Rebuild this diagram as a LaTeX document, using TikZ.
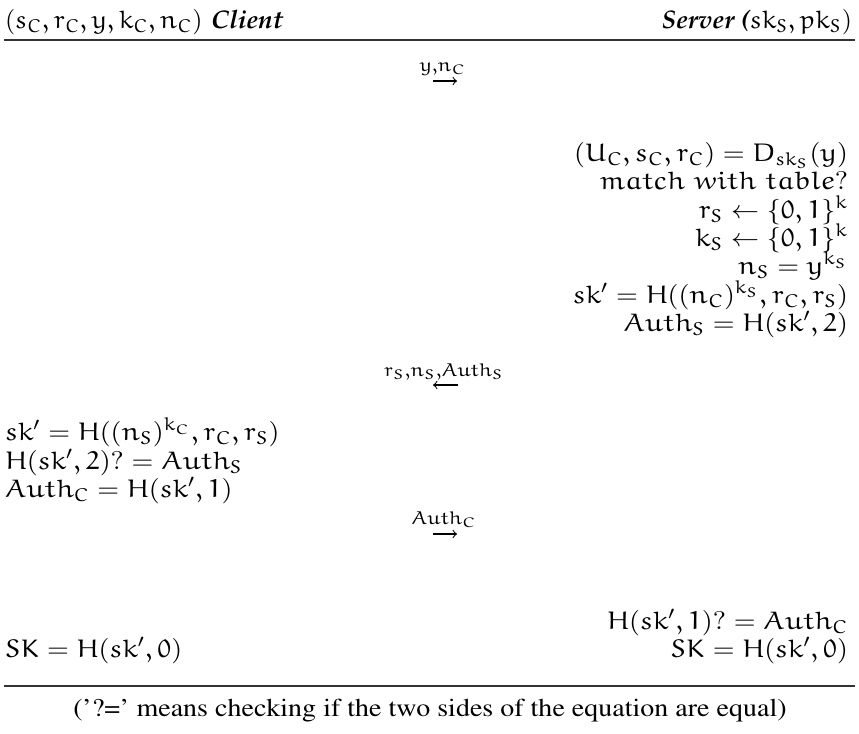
\documentclass[tikz,11pt,border=0pt]{standalone}
\usepackage[T1]{fontenc}
% Euler Roman for math letters and digits
\DeclareSymbolFont{letters}{U}{eur}{m}{n}
\SetSymbolFont{letters}{bold}{U}{eur}{b}{n}
\DeclareMathSymbol{0}{\mathalpha}{letters}{"30}
\DeclareMathSymbol{1}{\mathalpha}{letters}{"31}
\DeclareMathSymbol{2}{\mathalpha}{letters}{"32}
\newcommand\partyfont{\fontfamily{ppl}\fontseries{b}\fontshape{it}\selectfont}
\newcommand\notefont{\fontfamily{ptm}\fontseries{m}\fontshape{n}\selectfont}
% slightly widened setting of the protocol lines
\newcommand\wline[1]{\scalebox{1.1}[1]{#1}}
\newcommand\headline[1]{\scalebox{1.03}[1]{#1}}
\tikzset{
  lbl/.style={inner sep=0pt,outer sep=0pt},
  rule/.style={line width=0.5pt,draw=black!80},
  msg/.style={line width=0.45pt,-to},
  msgl/.style={lbl,anchor=base}
}
\begin{document}
\begin{tikzpicture}[x=0.43pt,y=-0.43pt]
\useasboundingbox (0,0) rectangle (859,733);

% party headers
\node[lbl,anchor=base west] (hc) at (5,28) {\headline{$(s_C,r_C,y,k_C,n_C)$ {\partyfont Client}}};
\node[lbl,anchor=base east] (hs) at (852,28) {\headline{{\partyfont Server (}$sk_S,pk_S)$}};
\coordinate (t1) at (4,40); \coordinate (t2) at (855,40);
\draw[rule] (t1) -- (t2);

% message 1
\coordinate (m1a) at (433,81); \coordinate (m1b) at (457,81);
\draw[msg] (m1a) -- (m1b);
\node[msgl] (m1) at (443,71) {\wline{$\scriptstyle y,n_C$}};

% server computation
\node[lbl,anchor=base east] (s1) at (848,161) {\wline{$(U_C,s_C,r_C)=D_{sk_S}(y)$}};
\node[lbl,anchor=base east] (s2) at (848,189) {\wline{$match\ with\ table?$}};
\node[lbl,anchor=base east] (s3) at (848,218) {\wline{$r_S\leftarrow\{0,1\}^k$}};
\node[lbl,anchor=base east] (s4) at (848,246) {\wline{$k_S\leftarrow\{0,1\}^k$}};
\node[lbl,anchor=base east] (s5) at (848,274) {\wline{$n_S=y^{k_S}$}};
\node[lbl,anchor=base east] (s6) at (848,303) {\wline{$sk'=H((n_C)^{k_S},r_C,r_S)$}};
\node[lbl,anchor=base east] (s7) at (848,331) {\wline{$Auth_S=H(sk',2)$}};

% message 2
\coordinate (m2a) at (458,385); \coordinate (m2b) at (433,385);
\draw[msg] (m2a) -- (m2b);
\node[msgl] (m2) at (444,376) {\wline{$\scriptstyle r_S,n_S,Auth_S$}};

% client computation
\node[lbl,anchor=base west] (c1) at (5,440) {\wline{$sk'=H((n_S)^{k_C},r_C,r_S)$}};
\node[lbl,anchor=base west] (c2) at (5,469) {\wline{$H(sk',2)?=Auth_S$}};
\node[lbl,anchor=base west] (c3) at (5,497) {\wline{$Auth_C=H(sk',1)$}};

% message 3
\coordinate (m3a) at (433,534); \coordinate (m3b) at (457,534);
\draw[msg] (m3a) -- (m3b);
\node[msgl] (m3) at (444,524) {\wline{$\scriptstyle Auth_C$}};

% session keys
\node[lbl,anchor=base east] (s8) at (848,629) {\wline{$H(sk',1)?=Auth_C$}};
\node[lbl,anchor=base east] (s9) at (848,657) {\wline{$SK=H(sk',0)$}};
\node[lbl,anchor=base west] (c4) at (5,657) {\wline{$SK=H(sk',0)$}};

% note
\coordinate (b1) at (4,686); \coordinate (b2) at (855,686);
\draw[rule] (b1) -- (b2);
\node[lbl,anchor=base] (note) at (430,716) {\wline{\notefont ('?=' means checking if the two sides of the equation are equal)}};
\end{tikzpicture}
\end{document}
